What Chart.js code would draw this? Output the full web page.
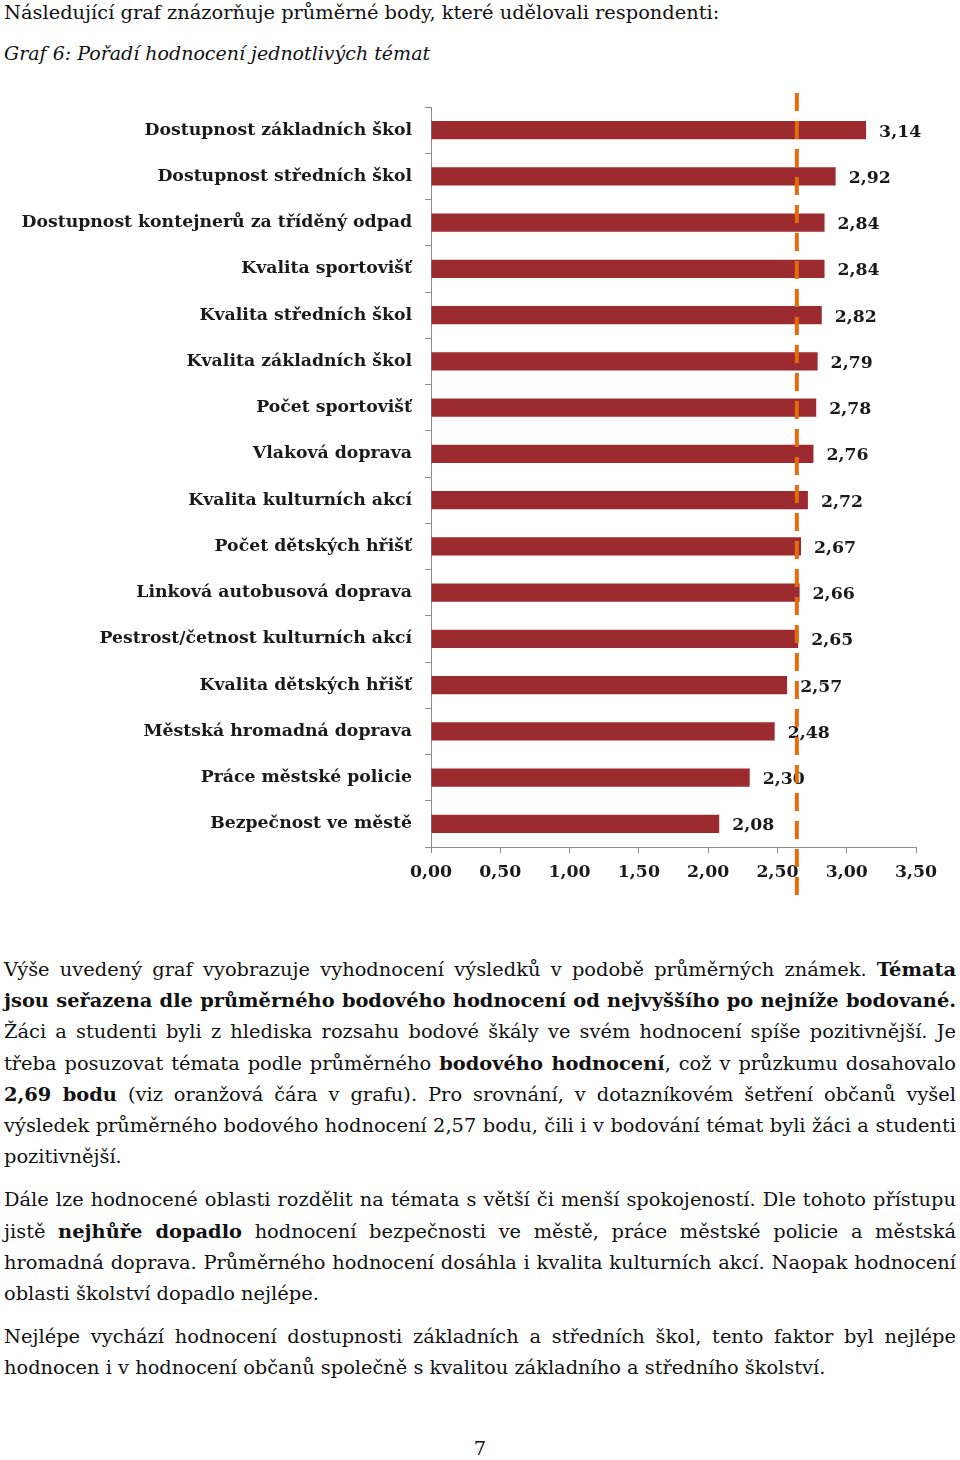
<!DOCTYPE html>
<html lang="cs">
<head>
<meta charset="utf-8">
<script src="https://cdn.jsdelivr.net/npm/chart.js@4"></script>
<style>
  html, body { margin: 0; padding: 0; background: #fff; }
  body { width: 960px; height: 1460px; position: relative; overflow: hidden;
         font-family: "DejaVu Serif", serif; font-size: 19.4px; color: #111; }
  .intro { position: absolute; left: 4px; top: -3px; line-height: 31px; white-space: nowrap; }
  .caption { position: absolute; left: 4px; top: 38px; line-height: 31px; font-style: italic; font-size: 19px; white-space: nowrap; }
  #chartBox { position: absolute; left: 0; top: 80px; width: 960px; height: 840px; }
  .text { position: absolute; left: 4px; top: 954px; width: 952px; }
  .line { height: 31.2px; line-height: 31.2px; white-space: nowrap; }
  .line span { display: inline-block; white-space: nowrap; }
  .gap { height: 12px; }
  .page { position: absolute; left: 0; width: 960px; top: 1433px; text-align: center; line-height: 31px; }
</style>
</head>
<body>
<div class="intro">Následující graf znázorňuje průměrné body, které udělovali respondenti:</div>
<div class="caption">Graf 6: Pořadí hodnocení jednotlivých témat</div>
<div id="chartBox"><canvas id="topicChart" width="960" height="840"></canvas></div>

<div class="text">
  <div class="line j"><span>Výše uvedený graf vyobrazuje vyhodnocení výsledků v podobě průměrných známek. <b>Témata</b></span></div>
  <div class="line j"><span><b>jsou seřazena dle průměrného bodového hodnocení od nejvyššího po nejníže bodované.</b></span></div>
  <div class="line j"><span>Žáci a studenti byli z hlediska rozsahu bodové škály ve svém hodnocení spíše pozitivnější. Je</span></div>
  <div class="line j"><span>třeba posuzovat témata podle průměrného <b>bodového hodnocení</b>, což v průzkumu dosahovalo</span></div>
  <div class="line j"><span><b>2,69 bodu</b> (viz oranžová čára v grafu). Pro srovnání, v dotazníkovém šetření občanů vyšel</span></div>
  <div class="line j"><span>výsledek průměrného bodového hodnocení 2,57 bodu, čili i v bodování témat byli žáci a studenti</span></div>
  <div class="line"><span>pozitivnější.</span></div>
  <div class="gap"></div>
  <div class="line j"><span>Dále lze hodnocené oblasti rozdělit na témata s větší či menší spokojeností. Dle tohoto přístupu</span></div>
  <div class="line j"><span>jistě <b>nejhůře dopadlo</b> hodnocení bezpečnosti ve městě, práce městské policie a městská</span></div>
  <div class="line j"><span>hromadná doprava. Průměrného hodnocení dosáhla i kvalita kulturních akcí. Naopak hodnocení</span></div>
  <div class="line"><span>oblasti školství dopadlo nejlépe.</span></div>
  <div class="gap"></div>
  <div class="line j"><span>Nejlépe vychází hodnocení dostupnosti základních a středních škol, tento faktor byl nejlépe</span></div>
  <div class="line"><span>hodnocen i v hodnocení občanů společně s kvalitou základního a středního školství.</span></div>
</div>
<div class="page">7</div>

<script>
const topics = [
  'Dostupnost základních škol',
  'Dostupnost středních škol',
  'Dostupnost kontejnerů za tříděný odpad',
  'Kvalita sportovišť',
  'Kvalita středních škol',
  'Kvalita základních škol',
  'Počet sportovišť',
  'Vlaková doprava',
  'Kvalita kulturních akcí',
  'Počet dětských hřišť',
  'Linková autobusová doprava',
  'Pestrost/četnost kulturních akcí',
  'Kvalita dětských hřišť',
  'Městská hromadná doprava',
  'Práce městské policie',
  'Bezpečnost ve městě'
];
const averageScores = [3.14, 2.92, 2.84, 2.84, 2.82, 2.79, 2.78, 2.76, 2.72, 2.67, 2.66, 2.65, 2.57, 2.48, 2.30, 2.08];
const xTickValues = [0, 0.5, 1, 1.5, 2, 2.5, 3, 3.5];
// orange dashed reference line, position
const orangeLineValue = 2.64;

const labelFont = { family: '"DejaVu Serif", serif', size: 17.3, weight: 'bold' };
const fmt = v => v.toFixed(2).replace('.', ',');

// value labels right of each bar
const valueLabels = {
  id: 'valueLabels',
  afterDatasetsDraw(chart) {
    const c = chart.ctx;
    const meta = chart.getDatasetMeta(0);
    c.save();
    c.font = 'bold 17.3px "DejaVu Serif", serif';
    c.fillStyle = '#1a1a1a';
    c.textAlign = 'left';
    c.textBaseline = 'middle';
    meta.data.forEach((bar, i) => {
      c.fillText(fmt(averageScores[i]), bar.x + 13, bar.y + 2);
    });
    c.restore();
  }
};

const dashedLine = {
  id: 'dashedLine',
  afterDraw(chart) {
    const c = chart.ctx;
    const area = chart.chartArea;
    const x = chart.scales.x.getPixelForValue(orangeLineValue);
    c.save();
    c.strokeStyle = '#E46C0A';
    c.lineWidth = 4;
    c.setLineDash([18, 10]);
    c.beginPath();
    c.moveTo(x, area.top - 14);
    c.lineTo(x, area.bottom + 56);
    c.stroke();
    c.restore();
  }
};

new Chart(document.getElementById('topicChart'), {
  type: 'bar',
  data: {
    labels: topics,
    datasets: [{
      data: averageScores,
      backgroundColor: '#9B2B2F',
      borderWidth: 0,
      categoryPercentage: 1,
      barPercentage: 0.39
    }]
  },
  options: {
    indexAxis: 'y',
    responsive: false,
    animation: false,
    layout: { padding: { left: 0, right: 44, top: 27, bottom: 33 } },
    plugins: { legend: { display: false }, tooltip: { enabled: false } },
    scales: {
      x: {
        min: 0,
        max: 3.5,
        afterBuildTicks: s => { s.ticks = xTickValues.map(v => ({ value: v })); },
        afterFit: s => { s.height = 40; },
        ticks: { font: labelFont, color: '#1a1a1a', padding: 9, callback: v => fmt(v), maxRotation: 0 },
        grid: { drawOnChartArea: false, tickLength: 6, color: '#8c8c8c' },
        border: { color: '#8c8c8c' }
      },
      y: {
        afterFit: s => { s.width = 431; },
        ticks: { font: labelFont, color: '#1a1a1a', padding: 13 },
        grid: { drawOnChartArea: false, tickLength: 6, color: '#8c8c8c', offset: true },
        border: { color: '#8c8c8c' }
      }
    }
  },
  plugins: [valueLabels, dashedLine]
});

// justify each text line to the full column width
document.querySelectorAll('.line.j span').forEach(span => {
  const text = span.textContent;
  const spaces = (text.match(/ /g) || []).length;
  const extra = (952 - span.getBoundingClientRect().width) / spaces;
  span.style.wordSpacing = extra + 'px';
});
</script>
</body>
</html>
